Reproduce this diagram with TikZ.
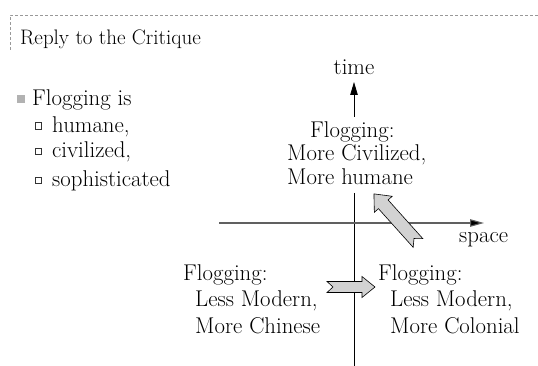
\documentclass[tikz,border=0pt]{standalone}
\usetikzlibrary{arrows.meta}
\tikzset{
  txt/.style={inner sep=0pt, font=\fontsize{22.8}{26}\selectfont},
  blocktxt/.style={txt, align=left, font=\fontsize{22.8}{26.5}\selectfont},
  axis/.style={line width=0.8pt, black},
  blockarr/.style={draw=black, line width=0.6pt, fill=gray!35, line join=miter},
  subbullet/.style={draw=black!80, line width=0.6pt, fill=white, minimum size=6.5pt, inner sep=0pt},
  mainbullet/.style={fill=gray!60, minimum size=8pt, inner sep=0pt},
  tip/.style={-{Triangle[length=13pt,width=7.5pt]}}
}
\begin{document}
\begin{tikzpicture}[x=1pt,y=-1pt]
\useasboundingbox (0,0) rectangle (538,366);
% frame
\draw[gray!80, line width=0.6pt, dash pattern=on 3pt off 2pt] (10,50) -- (10,15) -- (538,15);
\node[txt, anchor=base west, font=\fontsize{21}{24}\selectfont] (title) at (20,45) {Reply to the Critique};
% list
\node[mainbullet] (b0) at (21,99) {};
\node[txt, anchor=base west] (l0) at (32,106) {Flogging is};
\node[subbullet] (b1) at (38.5,126) {};
\node[txt, anchor=base west] (l1) at (52,133) {humane,};
\node[subbullet] (b2) at (38.5,151.5) {};
\node[txt, anchor=base west] (l2) at (52,158) {civilized,};
\node[subbullet] (b3) at (38.5,180.5) {};
\node[txt, anchor=base west] (l3) at (52,187) {sophisticated};
% axes
\coordinate (tbot) at (354,117);
\coordinate (ttop) at (354,82);
\coordinate (vtop) at (354,193);
\coordinate (vbot) at (354,366);
\coordinate (hl) at (219,223);
\coordinate (hr) at (484,223);
\draw[axis, tip] (tbot) -- (ttop);
\draw[axis] (vtop) -- (vbot);
\draw[line width=1.1pt, gray!75!black, -{Triangle[length=14pt,width=7.5pt,fill=black]}] (hl) -- (hr);
\node[txt, anchor=base] (time) at (354,75) {time};
\node[txt, anchor=base west] (space) at (459,243) {space};
% text blocks
\node[txt, align=left, anchor=north west, font=\fontsize{22.8}{23.5}\selectfont] (up) at (287,121) {\hspace*{23pt}Flogging:\\More Civilized,\\More humane};
\node[blocktxt, anchor=north west] (ll) at (183,264) {Flogging:\\\hspace*{12pt}Less Modern,\\\hspace*{12pt}More Chinese};
\node[blocktxt, anchor=north west] (lr) at (378,264) {Flogging:\\\hspace*{12pt}Less Modern,\\\hspace*{12pt}More Colonial};
% block arrows
\begin{scope}[shift={(327,287)}]
\draw[blockarr] (0,-5.5) -- (35,-5.5) -- (35,-10.5) -- (48,0) -- (35,10.5) -- (35,5.5) -- (0,5.5) -- (6,0) -- cycle;
\end{scope}
\begin{scope}[shift={(418,243)}, rotate=131.9]
\draw[blockarr] (0,-6.5) -- (52,-6.5) -- (52,-12) -- (66,0) -- (52,12) -- (52,6.5) -- (0,6.5) -- (6,0) -- cycle;
\end{scope}
\end{tikzpicture}
\end{document}
